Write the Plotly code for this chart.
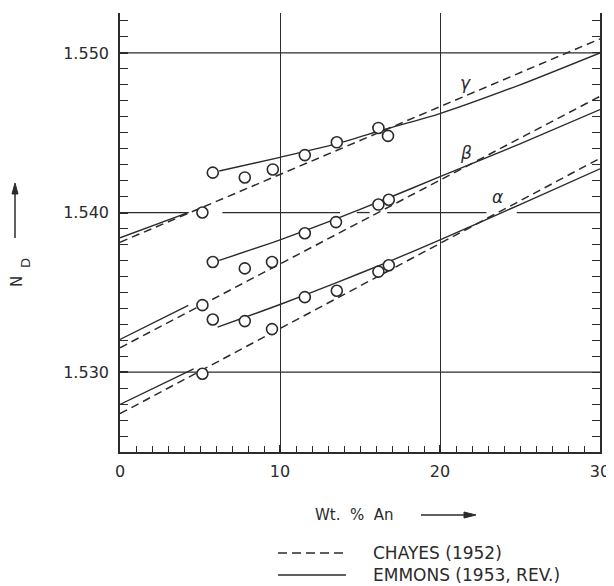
import plotly.graph_objects as go

# ---------------- data ----------------
x_tick_vals = [0, 10, 20, 30]
x_tick_text = ["0", "10", "20", "30"]
y_tick_vals = [1.530, 1.540, 1.550]
y_tick_text = ["1.530", "1.540", "1.550"]

# measured points (Wt. % An, N_D)
gamma_x = [5.8, 7.8, 9.55, 11.55, 13.55, 16.15, 16.75, 5.15]
gamma_y = [1.5425, 1.5422, 1.5427, 1.5436, 1.5444, 1.5453, 1.5448, 1.5400]
beta_x = [5.8, 7.8, 9.5, 11.55, 13.5, 16.15, 16.8, 5.15]
beta_y = [1.5369, 1.5365, 1.5369, 1.5387, 1.5394, 1.5405, 1.5408, 1.5342]
alpha_x = [5.8, 7.8, 9.5, 11.55, 13.55, 16.15, 16.8, 5.15]
alpha_y = [1.5333, 1.5332, 1.5327, 1.5347, 1.5351, 1.5363, 1.5367, 1.5299]

# Chayes (1952) straight lines
chayes_x = [0, 30]
chayes_gamma = [1.53814, 1.55088]
chayes_beta = [1.53153, 1.54728]
chayes_alpha = [1.52740, 1.54340]

# Emmons (1953, rev.) curves
emmons_x = [6.2, 10, 13.5, 16.5, 20, 25, 30]
emmons_gamma = [1.5426, 1.54346, 1.5443, 1.5452, 1.5462, 1.5480, 1.5500]
emmons_beta = [1.5370, 1.53829, 1.5396, 1.5408, 1.54225, 1.5443, 1.54645]
emmons_alpha_x = [6.1, 10, 13.5, 16.5, 20, 25, 30]
emmons_alpha = [1.53282, 1.53424, 1.5356, 1.5368, 1.53829, 1.5405, 1.54274]

# Emmons short segments near pure albite
emmons_gamma_left_x = [0, 4.25]
emmons_gamma_left = [1.53842, 1.5400]
emmons_beta_left_x = [0, 4.27]
emmons_beta_left = [1.53205, 1.53418]
emmons_alpha_left_x = [0, 4.6]
emmons_alpha_left = [1.52798, 1.5302]

greek_labels = ["γ", "β", "α"]
greek_x = [21.6, 21.6, 23.6]
greek_y = [1.5481, 1.5437, 1.5410]

legend_labels = ["CHAYES (1952)", "EMMONS (1953, REV.)"]

# horizontal grid lines; the middle one is drawn broken where curves cross it
grid_y = [1.530, 1.540, 1.550]
grid_pieces = {
    1.530: [(0, 30)],
    1.540: [(0, 4.3), (6.4, 13.75), (14.8, 15.6), (16.7, 22.9), (24.8, 30)],
    1.550: [(0, 30)],
}

# ---------------- style ----------------
INK = "#2b2b2b"
FONT = "DejaVu Sans"
OFF = 8                      # browser body margin
W, H = 614 - OFF, 586 - OFF
L, R, T, B = 120 - OFF, 14, 13 - OFF, H - (452 - OFF)
PW, PH = W - L - R, H - T - B


def px2paper(px, py):
    """page pixel -> paper coordinates"""
    fx, fy = px - OFF, py - OFF
    return (fx - L) / PW, (H - B - fy) / PH


fig = go.Figure()

for gy in grid_y:
    for a, b in grid_pieces[gy]:
        fig.add_shape(type="line", xref="x", yref="y", x0=a, x1=b, y0=gy, y1=gy,
                      line=dict(color=INK, width=1.3), layer="below")

dash_style = dict(color=INK, width=1.5, dash="8px,5px")
solid_style = dict(color=INK, width=1.4)

for yy in [chayes_gamma, chayes_beta, chayes_alpha]:
    fig.add_trace(go.Scatter(x=chayes_x, y=yy, mode="lines", line=dash_style,
                             showlegend=False, hoverinfo="skip"))

for xx, yy in [(emmons_x, emmons_gamma), (emmons_x, emmons_beta),
               (emmons_alpha_x, emmons_alpha),
               (emmons_gamma_left_x, emmons_gamma_left),
               (emmons_beta_left_x, emmons_beta_left),
               (emmons_alpha_left_x, emmons_alpha_left)]:
    fig.add_trace(go.Scatter(x=xx, y=yy, mode="lines",
                             line=dict(solid_style, shape="spline", smoothing=0.6),
                             showlegend=False, hoverinfo="skip"))

for xx, yy in [(gamma_x, gamma_y), (beta_x, beta_y), (alpha_x, alpha_y)]:
    fig.add_trace(go.Scatter(x=xx, y=yy, mode="markers",
                             marker=dict(symbol="circle", size=11, color="white",
                                         line=dict(color=INK, width=1.6)),
                             showlegend=False, hoverinfo="skip"))

# invisible trace for the right-hand axis
fig.add_trace(go.Scatter(x=[0], y=[1.54], yaxis="y2", mode="markers",
                         marker=dict(opacity=0), showlegend=False, hoverinfo="skip"))

for lab, gx, gy in zip(greek_labels, greek_x, greek_y):
    fig.add_annotation(x=gx, y=gy, text="<i>" + lab + "</i>", showarrow=False,
                       font=dict(family=FONT, size=17, color=INK))

# x axis title with arrow
tx, ty = px2paper(313, 515)
fig.add_annotation(xref="paper", yref="paper", x=tx, y=ty, text="Wt.  %  An",
                   xanchor="left", yanchor="middle",
                   showarrow=False, font=dict(family=FONT, size=15, color=INK))
ax0, ay0 = px2paper(421, 515)
ax1, _ = px2paper(464, 515)
ax2, _ = px2paper(476, 515)
_, ayu = px2paper(0, 512)
_, ayd = px2paper(0, 518)
fig.add_shape(type="line", xref="paper", yref="paper", x0=ax0, x1=ax1, y0=ay0, y1=ay0,
              line=dict(color=INK, width=1.5))
fig.add_shape(type="path", xref="paper", yref="paper",
              path=f"M {ax1} {ayu} L {ax2} {ay0} L {ax1} {ayd} Z",
              fillcolor=INK, line=dict(color=INK, width=1))

# y axis title (N with subscript D) with arrow
nx, ny = px2paper(17, 282)
fig.add_annotation(xref="paper", yref="paper", x=nx, y=ny, text="N",
                   textangle=-90, showarrow=False, xanchor="center", yanchor="middle",
                   font=dict(family=FONT, size=15, color=INK))
dx, dy = px2paper(25, 263)
fig.add_annotation(xref="paper", yref="paper", x=dx, y=dy, text="D",
                   textangle=-90, showarrow=False, xanchor="center", yanchor="middle",
                   font=dict(family=FONT, size=13, color=INK))
vx, vy0 = px2paper(15, 238)
_, vy1 = px2paper(0, 194)
_, vy2 = px2paper(0, 183)
vxl, _ = px2paper(12, 0)
vxr, _ = px2paper(18, 0)
fig.add_shape(type="line", xref="paper", yref="paper", x0=vx, x1=vx, y0=vy0, y1=vy1,
              line=dict(color=INK, width=1.5))
fig.add_shape(type="path", xref="paper", yref="paper",
              path=f"M {vxl} {vy1} L {vx} {vy2} L {vxr} {vy1} Z",
              fillcolor=INK, line=dict(color=INK, width=1))

# legend (drawn manually)
for i, (lab, rowy) in enumerate(zip(legend_labels, [553, 575])):
    lx0, ly = px2paper(278, rowy)
    lx1, _ = px2paper(346, rowy)
    fig.add_shape(type="line", xref="paper", yref="paper", x0=lx0, x1=lx1, y0=ly, y1=ly,
                  line=dict(color=INK, width=1.4, dash="9px,5px" if i == 0 else "solid"))
    tlx, _ = px2paper(371, rowy)
    fig.add_annotation(xref="paper", yref="paper", x=tlx, y=ly, text=lab,
                       xanchor="left", yanchor="middle",
                       showarrow=False, font=dict(family=FONT, size=17, color=INK))

fig.update_layout(
    width=W, height=H,
    margin=dict(l=L, r=R, t=T, b=B, autoexpand=False),
    paper_bgcolor="white", plot_bgcolor="white",
    showlegend=False,
    xaxis=dict(range=[0, 30], tickvals=x_tick_vals, ticktext=x_tick_text,
               showline=True, linecolor=INK, linewidth=1.6,
               showgrid=True, gridcolor=INK, gridwidth=1.3, zeroline=False,
               ticks="inside", tickcolor=INK, tickwidth=1.5, ticklen=7,
               ticklabelstandoff=4,
               tickfont=dict(family=FONT, size=16, color=INK),
               minor=dict(dtick=1, ticks="inside", ticklen=6, tickcolor=INK, tickwidth=1.3,
                          showgrid=False)),
    yaxis=dict(range=[1.525, 1.5525], tickvals=y_tick_vals, ticktext=y_tick_text,
               showline=True, linecolor=INK, linewidth=1.6,
               showgrid=False, zeroline=False,
               ticks="inside", tickcolor=INK, tickwidth=1.5, ticklen=8,
               ticklabelstandoff=6,
               tickfont=dict(family=FONT, size=16, color=INK),
               minor=dict(dtick=0.001, tick0=1.525, ticks="inside", ticklen=8, tickcolor=INK,
                          tickwidth=1.3, showgrid=False)),
    yaxis2=dict(overlaying="y", side="right", range=[1.525, 1.5525], showline=True,
                linecolor=INK, linewidth=1.6, showgrid=False, zeroline=False,
                ticks="inside", ticklen=8, tickcolor=INK, tickwidth=1.3,
                tickvals=y_tick_vals, showticklabels=False,
                minor=dict(dtick=0.001, tick0=1.525, ticks="inside", ticklen=8,
                           tickcolor=INK, tickwidth=1.3, showgrid=False)),
)

fig.write_html("out.html")
